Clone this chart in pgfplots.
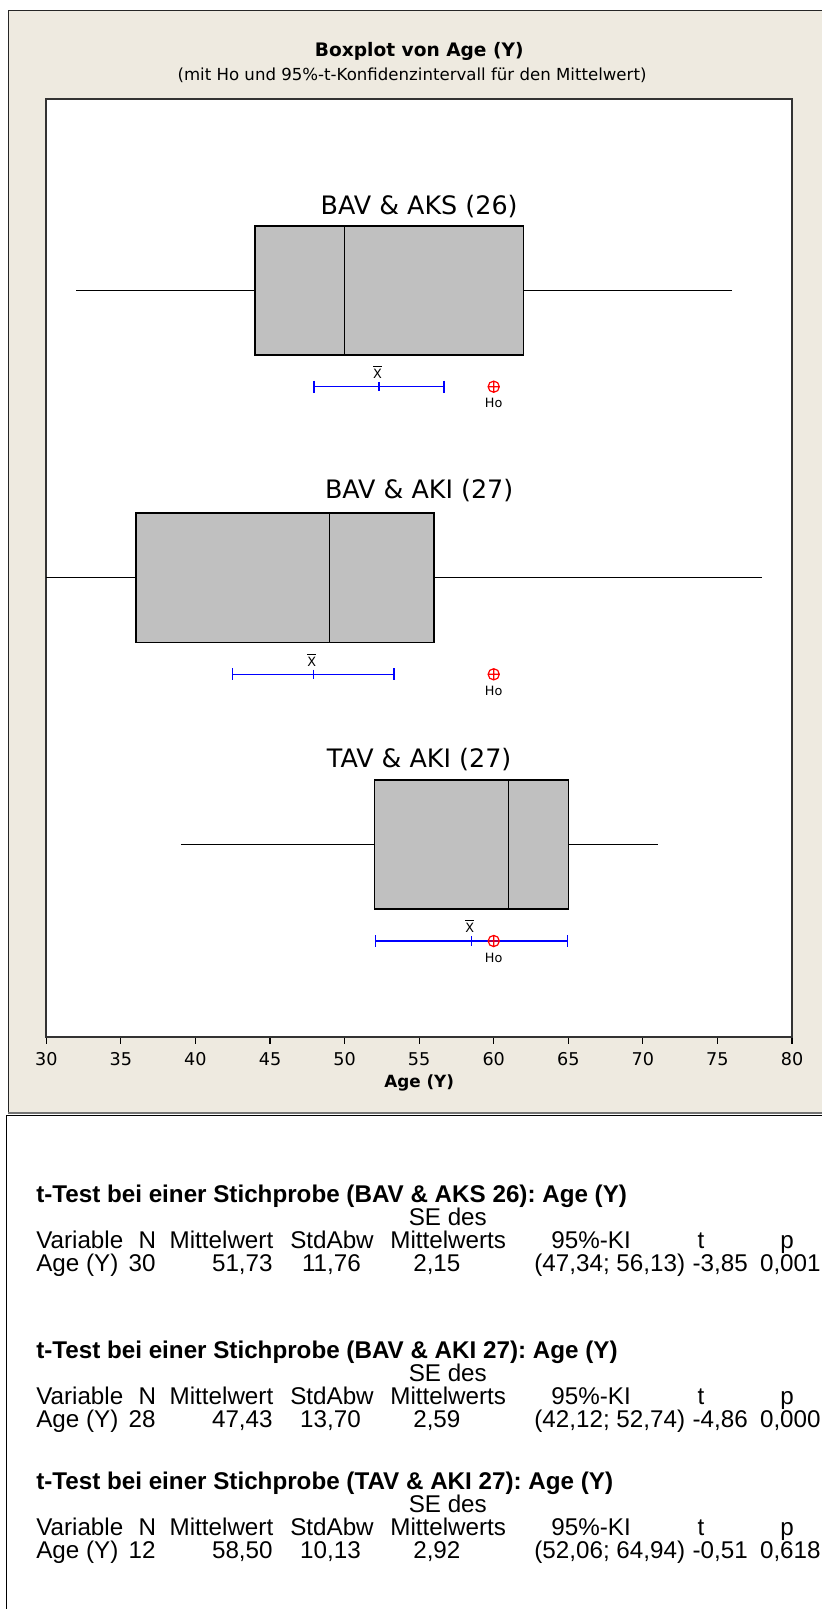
\documentclass[border=0pt]{standalone}
\usepackage{pgfplots}
\pgfplotsset{compat=1.18}
\usepgfplotslibrary{statistics}
\usepackage{fontspec}
\setmainfont{DejaVu Sans}
\newfontfamily\arial{Liberation Sans}
\definecolor{beige}{RGB}{238,234,224}
\definecolor{boxgray}{RGB}{192,192,192}
\definecolor{mtblue}{RGB}{0,0,255}
\definecolor{mtred}{RGB}{255,0,0}
\frenchspacing

\newcommand\ttblock[9]{%
\node[anchor=base west, font=\arial\bfseries\fontsize{12.1}{14}\selectfont] at (35.9,{#1+8.7}) {t-Test bei einer Stichprobe (#2): Age (Y)};
\node[anchor=base west] at (408.4,{#1+22.8+8.7}) {SE des};
\node[anchor=base west] at (35.9,{#1+46+8.7}) {Variable};
\node[anchor=base] at (147.3,{#1+46+8.7}) {N};
\node[anchor=base west] at (169.3,{#1+46+8.7}) {Mittelwert};
\node[anchor=base west] at (289.9,{#1+46+8.7}) {StdAbw};
\node[anchor=base west] at (390,{#1+46+8.7}) {Mittelwerts};
\node[anchor=base west] at (551,{#1+46+8.7}) {95\%-KI};
\node[anchor=base] at (700.9,{#1+46+8.7}) {t};
\node[anchor=base] at (787.1,{#1+46+8.7}) {p};
\node[anchor=base west] at (35.9,{#1+69+8.7}) {Age (Y)};
\node[anchor=base east] at (156,{#1+69+8.7}) {#3};
\node[anchor=base east] at (273,{#1+69+8.7}) {#4};
\node[anchor=base east] at (361.2,{#1+69+8.7}) {#5};
\node[anchor=base east] at (460.8,{#1+69+8.7}) {#6};
\node[anchor=base east] at (685.5,{#1+69+8.7}) {#7};
\node[anchor=base east] at (748.1,{#1+69+8.7}) {#8};
\node[anchor=base east] at (821,{#1+69+8.7}) {#9};
}

\begin{document}
\begin{tikzpicture}
\begin{scope}[x=0.5pt,y=-0.5pt]
\path[use as bounding box, fill=white] (0,0) rectangle (822,1609);
\fill[beige] (8.3,10.3) rectangle (822,1112);
\draw[black!85, line width=0.6pt] (822,10.3) -- (8.3,10.3) -- (8.3,1112);
\draw[black!55, line width=1.4pt] (8.3,1113) -- (822,1113);
\draw[black, line width=0.5pt] (6,1609) -- (6,1115.5) -- (822,1115.5);
\node[font=\bfseries\fontsize{9.3}{11}\selectfont, anchor=base] at (419.2,56.3) {Boxplot von Age (Y)};
\node[font=\fontsize{8.3}{10}\selectfont, anchor=base] at (412,80.5) {(mit Ho und 95\%-t-Konfidenzintervall für den Mittelwert)};
\end{scope}

\begin{axis}[
  at={(23.15pt,-518.35pt)}, anchor=south west,
  scale only axis, width=372.85pt, height=468.85pt,
  xmin=30, xmax=80, ymin=0, ymax=937.7,
  xtick={30,35,...,80}, ytick=\empty,
  tick align=outside, xtick pos=bottom, major tick length=3.5pt,
  tick style={black, line width=0.6pt},
  axis line style={black!80, line width=0.9pt},
  axis background/.style={fill=white},
  ticklabel style={font=\fontsize{8.8}{10}\selectfont},
  xticklabel shift=0.9pt,
  /pgf/number format/assume math mode=true,
  xlabel={Age (Y)},
  xlabel style={font=\bfseries\fontsize{8.4}{10}\selectfont, at={(axis description cs:0.5,0)}, anchor=base, yshift=-25.5pt},
  clip=false,
  boxplot/every whisker/.style={line width=0.5pt},
  boxplot/every median/.style={line width=0.75pt},
]
% Boxes
\addplot[boxplot prepared={lower whisker=32, lower quartile=44, median=50, upper quartile=62, upper whisker=76, draw position=746.3, box extend=129.2, whisker extend=0, draw direction=x}, draw=black, fill=boxgray, line width=0.75pt] coordinates {};
\addplot[boxplot prepared={lower whisker=30, lower quartile=36, median=49, upper quartile=56, upper whisker=78, draw position=458.9, box extend=129.2, whisker extend=0, draw direction=x}, draw=black, fill=boxgray, line width=0.75pt] coordinates {};
\addplot[boxplot prepared={lower whisker=39, lower quartile=52, median=61, upper quartile=65, upper whisker=71, draw position=192.1, box extend=129.2, whisker extend=0, draw direction=x}, draw=black, fill=boxgray, line width=0.75pt] coordinates {};
% Confidence intervals
\addplot[mtblue, line width=0.75pt, mark=|, mark size=3pt, mark options={solid}] coordinates {(47.95,650) (56.67,650)};
\addplot[mtblue, line width=0.75pt, mark=|, mark size=3pt, mark options={solid}] coordinates {(42.50,362.4) (53.31,362.4)};
\addplot[mtblue, line width=0.75pt, mark=|, mark size=3pt, mark options={solid}] coordinates {(52.06,95.7) (64.94,95.7)};
% Means
\addplot[mtblue, line width=0.75pt, only marks, mark=|, mark size=2.3pt] coordinates {(52.31,650) (47.90,362.4) (58.50,95.7)};
% Ho
\addplot[mtred, line width=0.6pt, only marks, mark=oplus, mark size=2.8pt] coordinates {(60,650) (60,362.4) (60,95.7)};
% labels
\node[font=\fontsize{12.7}{14}\selectfont, anchor=base] at (axis cs:55,822.4) {BAV \& AKS (26)};
\node[font=\fontsize{12.7}{14}\selectfont, anchor=base] at (axis cs:55,538.1) {BAV \& AKI (27)};
\node[font=\fontsize{12.7}{14}\selectfont, anchor=base] at (axis cs:55,269.2) {TAV \& AKI (27)};
\node[font=\fontsize{6.4}{7}\selectfont, anchor=base] at (axis cs:52.2,658.1) {$\overline{\mbox{X}}$};
\node[font=\fontsize{6.4}{7}\selectfont, anchor=base] at (axis cs:47.8,370.5) {$\overline{\mbox{X}}$};
\node[font=\fontsize{6.4}{7}\selectfont, anchor=base] at (axis cs:58.4,103.8) {$\overline{\mbox{X}}$};
\node[font=\fontsize{6.4}{7}\selectfont, anchor=base] at (axis cs:60,628.9) {Ho};
\node[font=\fontsize{6.4}{7}\selectfont, anchor=base] at (axis cs:60,341.3) {Ho};
\node[font=\fontsize{6.4}{7}\selectfont, anchor=base] at (axis cs:60,74.6) {Ho};
\end{axis}

\begin{scope}[x=0.5pt,y=-0.5pt, every node/.style={inner sep=0pt, font=\arial\fontsize{12.1}{14}\selectfont}]
\ttblock{1193.5}{BAV \& AKS 26}{30}{51,73}{11,76}{2,15}{(47,34; 56,13)}{-3,85}{0,001}
\ttblock{1349.5}{BAV \& AKI 27}{28}{47,43}{13,70}{2,59}{(42,12; 52,74)}{-4,86}{0,000}
\ttblock{1481}{TAV \& AKI 27}{12}{58,50}{10,13}{2,92}{(52,06; 64,94)}{-0,51}{0,618}
\end{scope}
\end{tikzpicture}
\end{document}
